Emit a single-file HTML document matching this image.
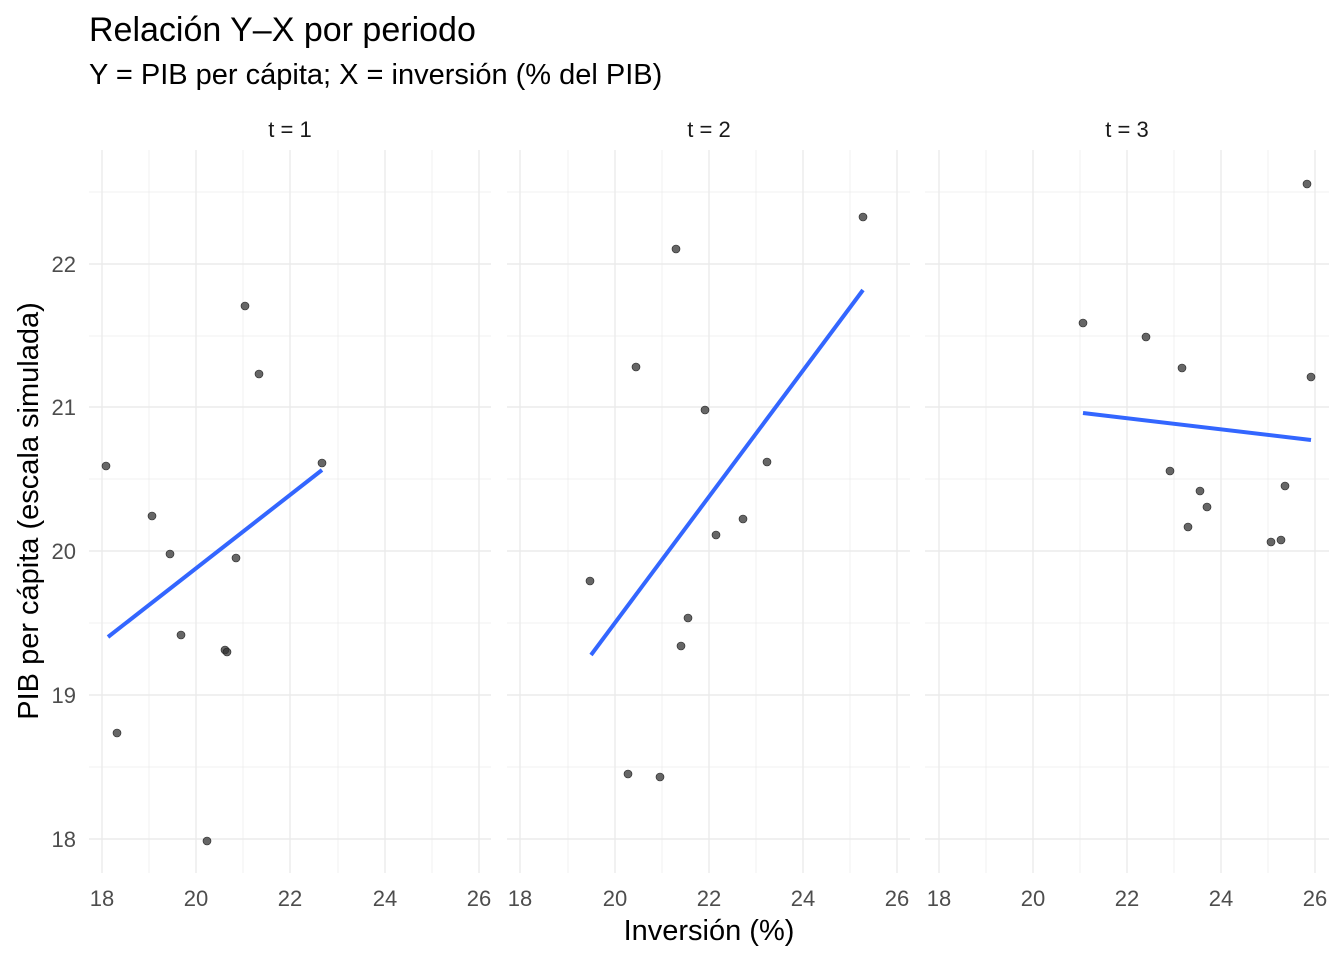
<!DOCTYPE html>
<html><head><meta charset="utf-8"><style>
body{margin:0;background:#fff}
svg{font-family:"Liberation Sans",Arial,sans-serif}
</style></head><body>
<svg width="1344" height="960" viewBox="0 0 1344 960" xmlns="http://www.w3.org/2000/svg">
<rect width="1344" height="960" fill="#fff"/>
<g id="grid" stroke="#ebebeb" fill="none">
<g stroke-width="0.7">
<line x1="89" x2="491" y1="192" y2="192"/><line x1="89" x2="491" y1="336" y2="336"/><line x1="89" x2="491" y1="479" y2="479"/><line x1="89" x2="491" y1="623" y2="623"/><line x1="89" x2="491" y1="767" y2="767"/>
<line x1="149" x2="149" y1="150" y2="873"/><line x1="243" x2="243" y1="150" y2="873"/><line x1="338" x2="338" y1="150" y2="873"/><line x1="432" x2="432" y1="150" y2="873"/>
<line x1="507" x2="910" y1="192" y2="192"/><line x1="507" x2="910" y1="336" y2="336"/><line x1="507" x2="910" y1="479" y2="479"/><line x1="507" x2="910" y1="623" y2="623"/><line x1="507" x2="910" y1="767" y2="767"/>
<line x1="568" x2="568" y1="150" y2="873"/><line x1="662" x2="662" y1="150" y2="873"/><line x1="756" x2="756" y1="150" y2="873"/><line x1="850" x2="850" y1="150" y2="873"/>
<line x1="925" x2="1329" y1="192" y2="192"/><line x1="925" x2="1329" y1="336" y2="336"/><line x1="925" x2="1329" y1="479" y2="479"/><line x1="925" x2="1329" y1="623" y2="623"/><line x1="925" x2="1329" y1="767" y2="767"/>
<line x1="986" x2="986" y1="150" y2="873"/><line x1="1080" x2="1080" y1="150" y2="873"/><line x1="1174" x2="1174" y1="150" y2="873"/><line x1="1268" x2="1268" y1="150" y2="873"/>
</g>
<g stroke-width="1.4">
<line x1="89" x2="491" y1="264" y2="264"/><line x1="89" x2="491" y1="407" y2="407"/><line x1="89" x2="491" y1="551" y2="551"/><line x1="89" x2="491" y1="695" y2="695"/><line x1="89" x2="491" y1="839" y2="839"/>
<line x1="102" x2="102" y1="150" y2="873"/><line x1="196" x2="196" y1="150" y2="873"/><line x1="290" x2="290" y1="150" y2="873"/><line x1="385" x2="385" y1="150" y2="873"/><line x1="479" x2="479" y1="150" y2="873"/>
<line x1="507" x2="910" y1="264" y2="264"/><line x1="507" x2="910" y1="407" y2="407"/><line x1="507" x2="910" y1="551" y2="551"/><line x1="507" x2="910" y1="695" y2="695"/><line x1="507" x2="910" y1="839" y2="839"/>
<line x1="520" x2="520" y1="150" y2="873"/><line x1="615" x2="615" y1="150" y2="873"/><line x1="709" x2="709" y1="150" y2="873"/><line x1="803" x2="803" y1="150" y2="873"/><line x1="897" x2="897" y1="150" y2="873"/>
<line x1="925" x2="1329" y1="264" y2="264"/><line x1="925" x2="1329" y1="407" y2="407"/><line x1="925" x2="1329" y1="551" y2="551"/><line x1="925" x2="1329" y1="695" y2="695"/><line x1="925" x2="1329" y1="839" y2="839"/>
<line x1="939" x2="939" y1="150" y2="873"/><line x1="1033" x2="1033" y1="150" y2="873"/><line x1="1127" x2="1127" y1="150" y2="873"/><line x1="1221" x2="1221" y1="150" y2="873"/><line x1="1315" x2="1315" y1="150" y2="873"/>
</g>
</g>
<g fill="#333" fill-opacity="0.75" stroke="#222" stroke-width="0.6">
<circle cx="106" cy="466" r="4"/><circle cx="117" cy="733" r="4"/><circle cx="152" cy="516" r="4"/><circle cx="170" cy="554" r="4"/><circle cx="181" cy="635" r="4"/><circle cx="207" cy="841" r="4"/><circle cx="225" cy="650" r="4"/><circle cx="227" cy="652" r="4"/><circle cx="236" cy="558" r="4"/><circle cx="245" cy="306" r="4"/><circle cx="259" cy="374" r="4"/><circle cx="322" cy="463" r="4"/>
<circle cx="590" cy="581" r="4"/><circle cx="628" cy="774" r="4"/><circle cx="636" cy="367" r="4"/><circle cx="660" cy="777" r="4"/><circle cx="676" cy="249" r="4"/><circle cx="681" cy="646" r="4"/><circle cx="688" cy="618" r="4"/><circle cx="705" cy="410" r="4"/><circle cx="716" cy="535" r="4"/><circle cx="743" cy="519" r="4"/><circle cx="767" cy="462" r="4"/><circle cx="863" cy="217" r="4"/>
<circle cx="1083" cy="323" r="4"/><circle cx="1146" cy="337" r="4"/><circle cx="1170" cy="471" r="4"/><circle cx="1182" cy="368" r="4"/><circle cx="1188" cy="527" r="4"/><circle cx="1200" cy="491" r="4"/><circle cx="1207" cy="507" r="4"/><circle cx="1271" cy="542" r="4"/><circle cx="1281" cy="540" r="4"/><circle cx="1285" cy="486" r="4"/><circle cx="1307" cy="184" r="4"/><circle cx="1311" cy="377" r="4"/>
</g>
<g stroke="#3366ff" stroke-width="4">
<line x1="108" y1="637" x2="322" y2="470"/>
<line x1="591" y1="655" x2="863" y2="290"/>
<line x1="1083" y1="413" x2="1311" y2="440"/>
</g>
<g font-size="22" fill="#1a1a1a" text-anchor="middle">
<text x="290" y="137">t = 1</text><text x="709" y="137">t = 2</text><text x="1127" y="137">t = 3</text>
</g>
<g font-size="22" fill="#4d4d4d" text-anchor="end">
<text x="76" y="272">22</text><text x="76" y="415">21</text><text x="76" y="559">20</text><text x="76" y="703">19</text><text x="76" y="847">18</text>
</g>
<g font-size="22" fill="#4d4d4d" text-anchor="middle">
<text x="102" y="906">18</text><text x="196" y="906">20</text><text x="290" y="906">22</text><text x="385" y="906">24</text><text x="479" y="906">26</text>
<text x="520" y="906">18</text><text x="615" y="906">20</text><text x="709" y="906">22</text><text x="803" y="906">24</text><text x="897" y="906">26</text>
<text x="939" y="906">18</text><text x="1033" y="906">20</text><text x="1127" y="906">22</text><text x="1221" y="906">24</text><text x="1315" y="906">26</text>
</g>
<text x="709" y="940" font-size="29" fill="#000" text-anchor="middle">Inversión (%)</text>
<text transform="translate(38,511) rotate(-90)" font-size="29" fill="#000" text-anchor="middle">PIB per cápita (escala simulada)</text>
<text x="89" y="41" font-size="34" fill="#000">Relación Y–X por periodo</text>
<text x="89" y="84" font-size="29" fill="#000">Y = PIB per cápita; X = inversión (% del PIB)</text>
</svg>
</body></html>
